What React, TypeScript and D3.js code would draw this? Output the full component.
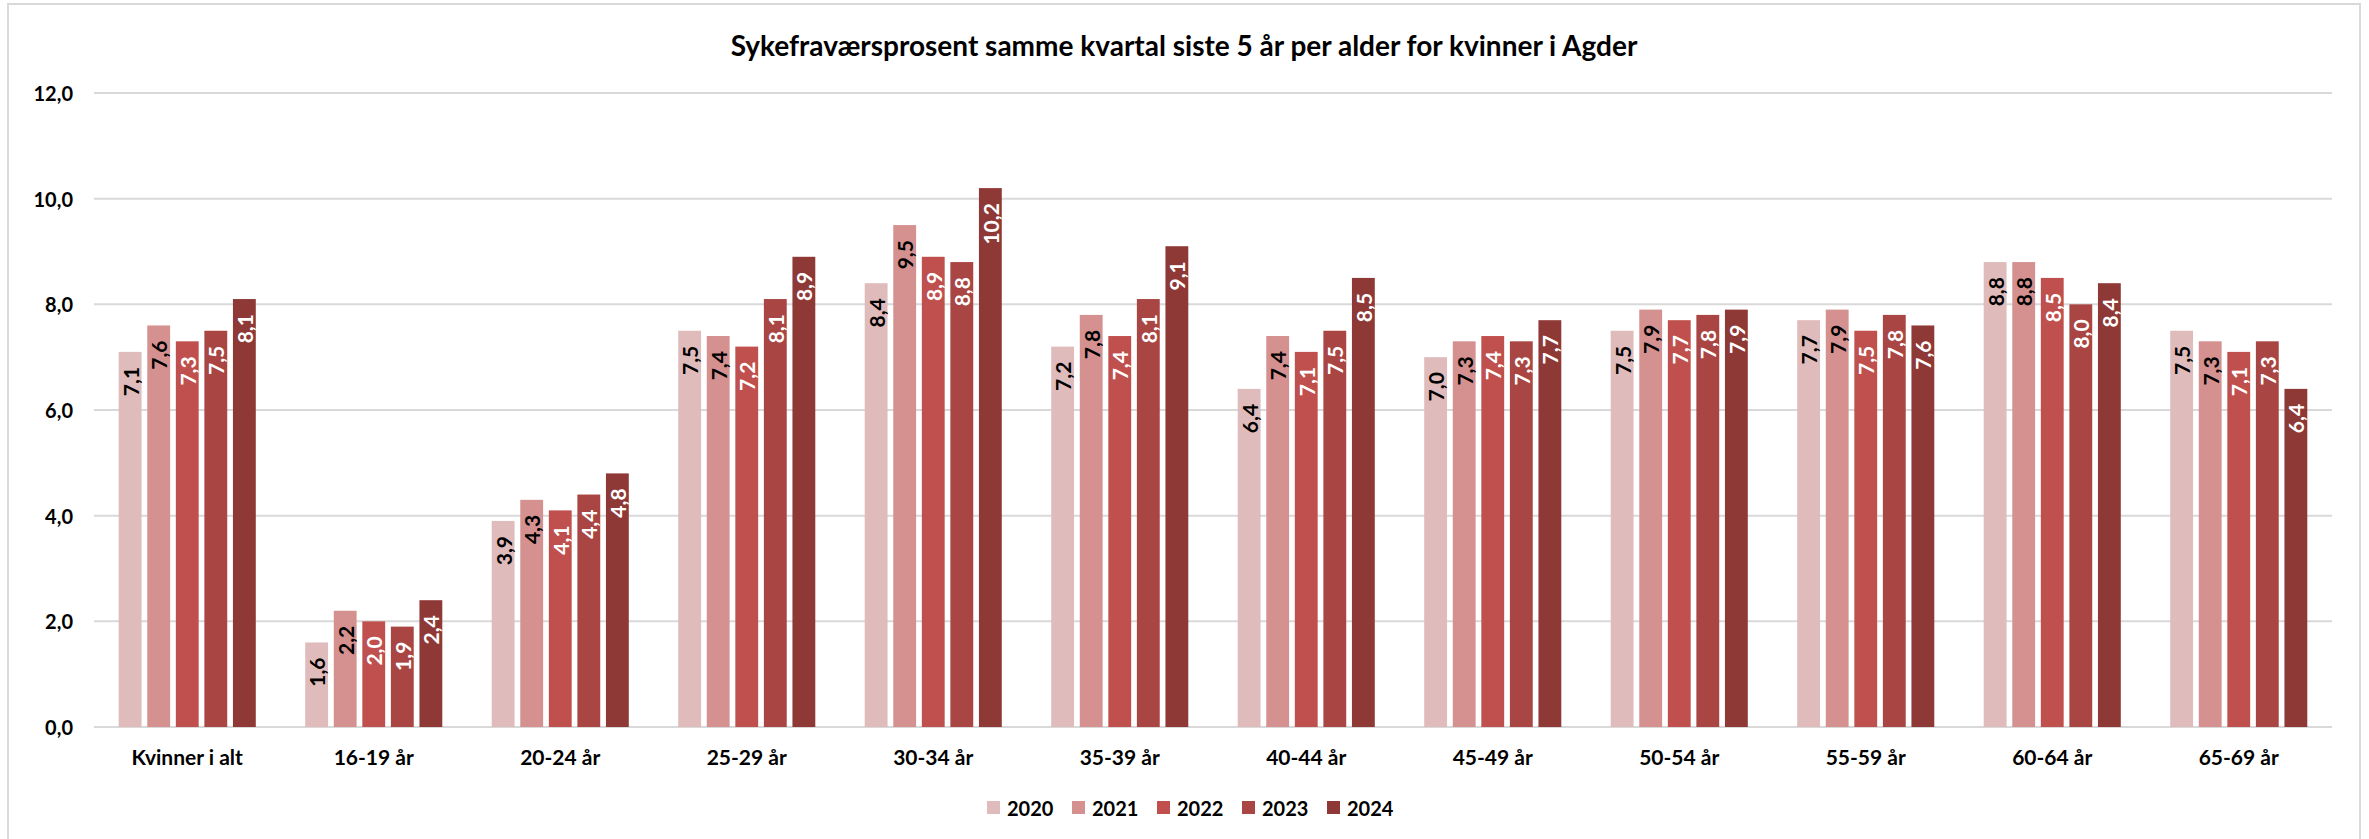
import React from 'react';
import * as d3 from 'd3';

const categories = ['Kvinner i alt', '16-19 år', '20-24 år', '25-29 år', '30-34 år', '35-39 år',
  '40-44 år', '45-49 år', '50-54 år', '55-59 år', '60-64 år', '65-69 år'];
const years = ['2020', '2021', '2022', '2023', '2024'];

const v2020 = [7.1, 1.6, 3.9, 7.5, 8.4, 7.2, 6.4, 7.0, 7.5, 7.7, 8.8, 7.5];
const v2021 = [7.6, 2.2, 4.3, 7.4, 9.5, 7.8, 7.4, 7.3, 7.9, 7.9, 8.8, 7.3];
const v2022 = [7.3, 2.0, 4.1, 7.2, 8.9, 7.4, 7.1, 7.4, 7.7, 7.5, 8.5, 7.1];
const v2023 = [7.5, 1.9, 4.4, 8.1, 8.8, 8.1, 7.5, 7.3, 7.8, 7.8, 8.0, 7.3];
const v2024 = [8.1, 2.4, 4.8, 8.9, 10.2, 9.1, 8.5, 7.7, 7.9, 7.6, 8.4, 6.4];
const yTicks = [0, 2, 4, 6, 8, 10, 12];

const series = [v2020, v2021, v2022, v2023, v2024];
const colors = ['#E0BBBB', '#D49190', '#C0504D', '#A94542', '#8F3937'];
const labelColors = ['#000', '#000', '#fff', '#fff', '#fff'];

const W = 2369, H = 839;
const font = 'Lato, "Open Sans", sans-serif';
const fmt = (v: number) => d3.format('.1f')(v).replace('.', ',');

export default function App() {
  const x0 = d3.scaleBand().domain(categories).range([94, 2332]).paddingInner(0.265).paddingOuter(0.1325);
  const x1 = d3.scaleBand().domain(years).range([0, x0.bandwidth()]).paddingInner(0.2);
  const y = d3.scaleLinear().domain([0, 12]).range([727, 93]);
  const color = d3.scaleOrdinal<string>().domain(years).range(colors);

  return (
    <svg width={W} height={H} style={{ position: 'absolute', left: 0, top: 0, background: '#fff' }}
      fontFamily={font}>
      <rect x={8} y={4} width={2352} height={860} fill="#fff" stroke="#d9d9d9" strokeWidth={2} />
      <text x={1184} y={45} textAnchor="middle" dominantBaseline="central" fontSize={28} fontWeight={700}>
        Sykefraværsprosent samme kvartal siste 5 år per alder for kvinner i Agder
      </text>
      {yTicks.map(t => (
        <g key={t}>
          <line x1={94} x2={2332} y1={y(t)} y2={y(t)} stroke="#d9d9d9" strokeWidth={2} />
          <text x={73} y={y(t)} textAnchor="end" dominantBaseline="central" fontSize={20} fontWeight={700}>{fmt(t)}</text>
        </g>
      ))}
      {categories.map((c, i) => (
        <g key={c} transform={`translate(${x0(c)},0)`}>
          {years.map((yr, j) => {
            const v = series[j][i];
            const bx = x1(yr)!;
            const cx = bx + x1.bandwidth() / 2;
            const top = y(v);
            return (
              <g key={yr}>
                <rect x={bx} y={top} width={x1.bandwidth()} height={y(0) - top} fill={color(yr)} />
                <text transform={`translate(${cx},${top + 15}) rotate(-90)`} textAnchor="end"
                  dominantBaseline="central" fontSize={21} fontWeight={700} fill={labelColors[j]}>{fmt(v)}</text>
              </g>
            );
          })}
          <text x={x0.bandwidth() / 2} y={756} textAnchor="middle" dominantBaseline="central" fontSize={21} fontWeight={700}>{c}</text>
        </g>
      ))}
      {years.map((yr, j) => {
        const lx = 987 + j * 85;
        return (
          <g key={yr}>
            <rect x={lx} y={801} width={13} height={13} fill={color(yr)} />
            <text x={lx + 20} y={807.5} dominantBaseline="central" fontSize={20} fontWeight={700}>{yr}</text>
          </g>
        );
      })}
    </svg>
  );
}
